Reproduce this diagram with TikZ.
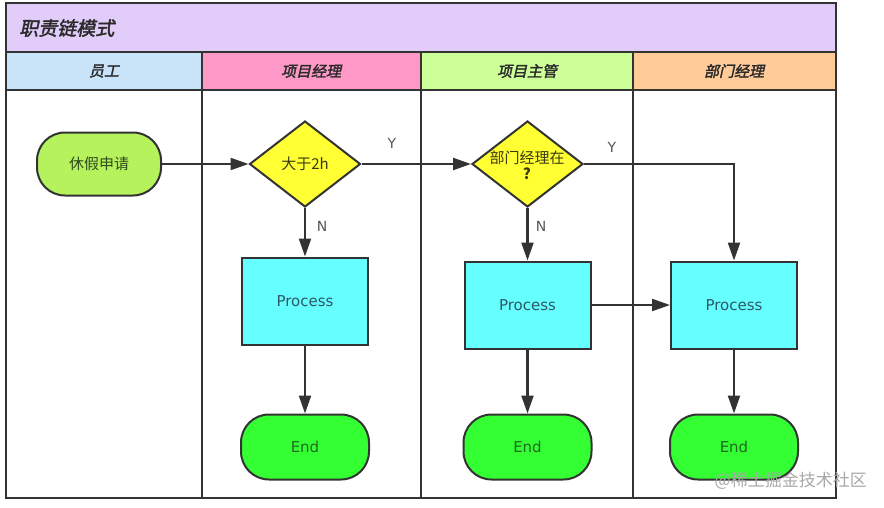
\documentclass[tikz,border=0pt]{standalone}
\usepackage{fontspec}
\setmainfont{DejaVu Sans}
\newfontfamily\cjk{Noto Sans CJK SC}
\newfontfamily\cjkhead[FakeSlant=0.22,FakeBold=2]{Noto Sans CJK SC}
\newfontfamily\latin{DejaVu Sans}
\usetikzlibrary{shapes.geometric,arrows.meta}
\definecolor{titlebg}{HTML}{E2CCFA}
\definecolor{hdA}{HTML}{C9E3F9}
\definecolor{hdB}{HTML}{FE99C7}
\definecolor{hdC}{HTML}{CDFF99}
\definecolor{hdD}{HTML}{FFCB99}
\definecolor{framec}{HTML}{333333}
\definecolor{startc}{HTML}{B5F25C}
\definecolor{diac}{HTML}{FFFF33}
\definecolor{procc}{HTML}{66FFFF}
\definecolor{endc}{HTML}{33FF33}
\definecolor{starttxt}{HTML}{2F4A1F}
\definecolor{proctxt}{HTML}{2E5866}
\definecolor{endtxt}{HTML}{1F6A1F}
\definecolor{diatxt}{HTML}{3A3A10}
\definecolor{lblc}{HTML}{555555}
\definecolor{hdrtxt}{HTML}{2A2A2A}
\definecolor{wmark}{HTML}{A8A8A8}
\begin{document}
\begin{tikzpicture}[x=1pt,y=-1pt,
  lane/.style={line width=2.6pt,draw=framec},
  conn/.style={line width=2.2pt,draw=framec,-{Triangle[length=18pt,width=12pt]}},
  startbox/.style={draw=framec,line width=2pt,fill=startc,rounded corners=28pt,minimum width=124pt,minimum height=63pt,inner sep=0pt,font=\cjk\fontsize{15}{18}\selectfont,text=starttxt},
  decide/.style={diamond,draw=framec,line width=2pt,fill=diac,minimum width=111pt,minimum height=86pt,inner sep=0pt},
  procbox/.style={draw=framec,line width=2pt,fill=procc,minimum width=126pt,minimum height=87pt,inner sep=0pt,font=\latin\fontsize{15}{18}\selectfont,text=proctxt},
  endbox/.style={draw=framec,line width=2pt,fill=endc,rounded corners=28pt,minimum width=128pt,minimum height=65pt,inner sep=0pt,font=\latin\fontsize{15}{18}\selectfont,text=endtxt},
  diatext/.style={font=\cjk\fontsize{15}{17}\selectfont,text=diatxt,align=center,inner sep=0pt},
  lbl/.style={font=\latin\fontsize{14}{16}\selectfont,text=lblc,inner sep=0pt},
  hdr/.style={font=\cjkhead\fontsize{15}{18}\selectfont,text=hdrtxt,inner sep=0pt},
  ttl/.style={font=\cjkhead\fontsize{19}{22}\selectfont,text=hdrtxt,inner sep=0pt,anchor=west}
]
\useasboundingbox (0,0) rectangle (884,507);
% bands
\fill[titlebg] (6,3) rectangle (836,52);
\fill[hdA] (6,52) rectangle (202,90);
\fill[hdB] (202,52) rectangle (421,90);
\fill[hdC] (421,52) rectangle (633,90);
\fill[hdD] (633,52) rectangle (836,90);
% frame lines
\draw[lane] (6,3) rectangle (836,498);
\draw[lane] (6,52) -- (836,52);
\draw[lane] (6,90) -- (836,90);
\draw[lane] (202,52) -- (202,498);
\draw[lane] (421,52) -- (421,498);
\draw[lane] (633,52) -- (633,498);
% titles
\node[ttl] (title) at (19,28) {职责链模式};
\node[hdr] (hA) at (104,71) {员工};
\node[hdr] (hB) at (311,71) {项目经理};
\node[hdr] (hC) at (527,71) {项目主管};
\node[hdr] (hD) at (734,71) {部门经理};
% nodes
\node[startbox] (s) at (99,164) {休假申请};
\node[decide] (d1) at (305,164) {};
\node[diatext] (d1t) at (d1.center) {大于2h};
\node[decide] (d2) at (527.5,164) {};
\node[diatext] (d2t) at (527,165) {部门经理在\\[-1pt]{\bfseries ?}};
\node[procbox] (p1) at (305,301) {Process};
\node[procbox] (p2) at (527.5,305) {Process};
\node[procbox] (p3) at (734,305) {Process};
\node[endbox] (e1) at (305,447) {End};
\node[endbox] (e2) at (527.5,447) {End};
\node[endbox] (e3) at (734,447) {End};
% connectors
\draw[conn] (s.east) -- (d1.west);
\draw[conn] (d1.east) -- (d2.west);
\draw[conn] (d1.south) -- (p1.north);
\draw[conn] (d2.east) -| (p3.north);
\draw[conn] (d2.south) -- (p2.north);
\draw[conn] (p2.east) -- (p3.west);
\draw[conn] (p1.south) -- (e1.north);
\draw[conn] (p2.south) -- (e2.north);
\draw[conn] (p3.south) -- (e3.north);
% labels
\node[lbl] (y1) at (392,143) {Y};
\node[lbl] (y2) at (612,147) {Y};
\node[lbl] (n1) at (322,226) {N};
\node[lbl] (n2) at (541,226) {N};
% watermark
\node[font=\cjk\fontsize{17}{20}\selectfont,text=wmark,anchor=east,inner sep=0pt] (wm) at (867,481) {@稀土掘金技术社区};
\end{tikzpicture}
\end{document}
